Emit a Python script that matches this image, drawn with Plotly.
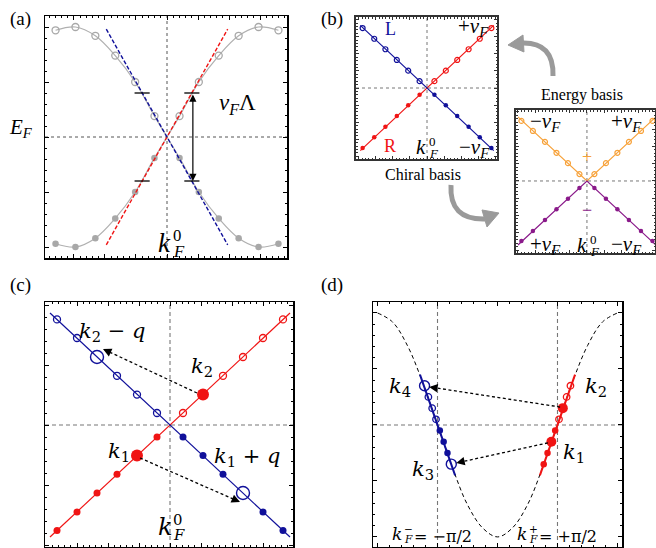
import plotly.graph_objects as go

W, H = 656, 548

# ===================== DATA =====================
# (a) lattice band near k_F^0 (k in lattice-point units, E in band units)
a_k = [-5.6, -4.6, -3.6, -2.6, -1.6, -0.63, 0.63, 1.6, 2.6, 3.6, 4.6, 5.6]
a_band1 = [0.97, 1.0, 0.92, 0.74, 0.5, 0.19, -0.19, -0.5, -0.74, -0.92, -1.0, -0.97]
a_band2 = [-0.97, -1.0, -0.92, -0.74, -0.5, -0.19, 0.19, 0.5, 0.74, 0.92, 1.0, 0.97]
a_lin_k = [-3.05, 3.05]
a_lin_R = [-0.98, 0.98]
a_lin_L = [0.98, -0.98]
a_cut_k = [-1.25, 1.25]
a_cut_E = [0.4, -0.4]
a_cut_half = 0.38
a_arrow_k = 1.3

# (b) chiral basis
b_k = [-5.65, -4.63, -3.65, -2.65, -1.65, -0.65, 0.65, 1.65, 2.65, 3.65, 4.63, 5.65]
b_R = [-5.26, -4.32, -3.4, -2.46, -1.52, -0.6, 0.6, 1.52, 2.46, 3.4, 4.32, 5.26]
b_L = [5.26, 4.32, 3.4, 2.46, 1.52, 0.6, -0.6, -1.52, -2.46, -3.4, -4.32, -5.26]
b_line_k = [-5.85, 5.85]
b_line_R = [-5.5, 5.5]
b_line_L = [5.5, -5.5]

# (b) energy basis
e_k = [-5.7, -4.7, -3.65, -2.65, -1.65, -0.65, 0.65, 1.65, 2.65, 3.65, 4.7, 5.7]
e_plus = [5.22, 4.35, 3.4, 2.45, 1.55, 0.6, 0.6, 1.55, 2.45, 3.4, 4.35, 5.22]
e_minus = [-5.22, -4.35, -3.4, -2.45, -1.55, -0.6, -0.6, -1.55, -2.45, -3.4, -4.35, -5.22]
e_line_k = [-6.0, 0.0, 6.0]
e_line_plus = [5.57, 0.0, 5.57]
e_line_minus = [-5.57, 0.0, -5.57]

# (c) linearised scattering
c_k = [-5.65, -4.65, -3.65, -2.65, -1.65, -0.65, 0.65, 1.65, 2.65, 3.65, 4.65, 5.65]
c_R = [-5.28, -4.35, -3.4, -2.46, -1.52, -0.6, 0.6, 1.52, 2.46, 3.4, 4.35, 5.28]
c_L = [5.28, 4.35, 3.4, 2.46, 1.52, 0.6, -0.6, -1.52, -2.46, -3.4, -4.35, -5.28]
c_line_k = [-6.0, 6.0]
c_line_R = [-5.6, 5.6]
c_line_L = [5.6, -5.6]
c_big_R = [4, 7]     # k1, k2 (red, filled, large)
c_big_L = [2, 9]     # k2-q, k1+q (blue, open, large)
c_arrow_from = [(1.35, 1.6), (-1.5, -1.65)]
c_arrow_to = [(-3.35, 3.8), (3.5, -3.85)]

# (d) cosine band with linearised patches
d_curve_k = [-3.14, -2.75, -2.36, -1.96, -1.57, -1.18, -0.79, -0.39, 0.0,
             0.39, 0.79, 1.18, 1.57, 1.96, 2.36, 2.75, 3.14]
d_curve_E = [1.0, 0.92, 0.71, 0.38, 0.0, -0.38, -0.71, -0.92, -1.0,
             -0.92, -0.71, -0.38, 0.0, 0.38, 0.71, 0.92, 1.0]
d_R_k = [1.21, 1.31, 1.41, 1.51, 1.61, 1.71, 1.81, 1.91]
d_R_E = [-0.35, -0.25, -0.15, -0.05, 0.05, 0.15, 0.25, 0.35]
d_L_k = [-1.91, -1.81, -1.71, -1.61, -1.51, -1.41, -1.31, -1.21]
d_L_E = [0.35, 0.25, 0.15, 0.05, -0.05, -0.15, -0.25, -0.35]
d_line_R_k = [1.11, 2.03]
d_line_R_E = [-0.45, 0.45]
d_line_L_k = [-2.03, -1.11]
d_line_L_E = [0.45, -0.45]
d_kF = [-1.5708, 1.5708]
d_big_R = [2, 5]     # k1, k2
d_big_L = [0, 7]     # k4, k3
d_arrow_from = [(1.64, 0.16), (1.32, -0.16)]
d_arrow_to = [(-1.79, 0.34), (-1.08, -0.34)]

# ===================== STYLE =====================
RED = "#f01414"
BLUE = "#10109a"
ORANGE = "#f7a23a"
PURPLE = "#8a1a8a"
GRAY = "#b0b0b0"
SER = "Liberation Serif"
M2 = "DejaVu Serif"

fig = go.Figure()
layout = {}
shapes = []
anns = []


def px2p(px, py):
    return px / W, 1 - py / H


def mk_axes(idx, xpx, ypx, xr, yr, xdt, xmin, ydt, ymin, lc="black", lw=1.5, tl=4):
    sx = "" if idx == 1 else str(idx)
    common = dict(showline=True, mirror="ticks", linecolor=lc, linewidth=lw,
                  ticks="inside", ticklen=tl, tickwidth=1, tickcolor=lc, tick0=0,
                  showticklabels=False, showgrid=False, zeroline=False, fixedrange=True)
    layout["xaxis" + sx] = dict(domain=[xpx[0] / W, xpx[1] / W], range=xr, anchor="y" + sx,
                                dtick=xdt,
                                minor=dict(ticks="inside", ticklen=tl * 0.5, dtick=xmin, tick0=0,
                                           tickcolor=lc, showgrid=False), **common)
    layout["yaxis" + sx] = dict(domain=[1 - ypx[1] / H, 1 - ypx[0] / H], range=yr, anchor="x" + sx,
                                dtick=ydt,
                                minor=dict(ticks="inside", ticklen=tl * 0.5, dtick=ymin, tick0=0,
                                           tickcolor=lc, showgrid=False), **common)


mk_axes(1, (45, 287), (16, 258), [-6.13, 6.03], [-1.1, 1.1], 1.56, 0.312, 0.5, 0.1)
mk_axes(2, (356, 497), (17, 159), [-6.23, 6.14], [-6.23, 6.23], 1.5, 0.3, 1.5, 0.3, lc="#333", lw=1.8, tl=3)
mk_axes(3, (516, 655), (110, 253), [-6.17, 5.92], [-6.26, 6.17], 1.5, 0.3, 1.5, 0.3, lc="#333", lw=1.8, tl=3)
mk_axes(4, (45, 293), (302, 547), [-6.25, 6.15], [-6.1, 6.15], 1.55, 0.31, 3.0, 0.6)
mk_axes(5, (373, 622), (302, 547), [-3.26, 3.26], [-1.09, 1.098], 1.5708, 0.31416, 0.5, 0.1)


def ax(i):
    s = "" if i == 1 else str(i)
    return "x" + s, "y" + s


def center_lines(i, xs, ys, color, dash, width=1):
    xa, ya = ax(i)
    for x in xs:
        shapes.append(dict(type="line", xref=xa, yref=ya + " domain", x0=x, x1=x, y0=0, y1=1,
                           line=dict(color=color, width=width, dash=dash), layer="below"))
    for y in ys:
        shapes.append(dict(type="line", xref=xa + " domain", yref=ya, x0=0, x1=1, y0=y, y1=y,
                           line=dict(color=color, width=width, dash=dash), layer="below"))


def add(i, **kw):
    xa, ya = ax(i)
    fig.add_trace(go.Scatter(xaxis=xa, yaxis=ya, showlegend=False, hoverinfo="skip", **kw))


def split(xs, ys, cond):
    return ([x for x, y in zip(xs, ys) if cond(y)], [y for y in ys if cond(y)])


# ---------------- (a) ----------------
center_lines(1, [0], [0], "#555", "3px,3px", 1)
for band in (a_band1, a_band2):
    add(1, x=a_k, y=band, mode="lines", line=dict(color=GRAY, width=1.2, shape="spline", smoothing=1.0))
    ox, oy = split(a_k, band, lambda v: v > 0)
    fx, fy = split(a_k, band, lambda v: v < 0)
    add(1, x=ox, y=oy, mode="markers", marker=dict(symbol="circle-open", size=7, color="#a8a8a8", line=dict(width=1.3)))
    add(1, x=fx, y=fy, mode="markers", marker=dict(symbol="circle", size=6.5, color="#a8a8a8"))
add(1, x=a_lin_k, y=a_lin_R, mode="lines", line=dict(color=RED, width=1.4, dash="4px,2px"))
add(1, x=a_lin_k, y=a_lin_L, mode="lines", line=dict(color=BLUE, width=1.4, dash="4px,2px"))
for kc in a_cut_k:
    for ec in a_cut_E:
        add(1, x=[kc - a_cut_half, kc + a_cut_half], y=[ec, ec], mode="lines", line=dict(color="black", width=1.3))
anns.append(dict(xref="x", yref="y", axref="x", ayref="y", x=a_arrow_k, y=a_cut_E[1], ax=a_arrow_k, ay=a_cut_E[0],
                 showarrow=True, arrowhead=2, arrowside="end+start", arrowsize=1.2, arrowwidth=1.2,
                 arrowcolor="black", text="", standoff=0, startstandoff=0))

# ---------------- (b) chiral ----------------
center_lines(2, [0], [0], "#777", "dot", 1)
add(2, x=b_line_k, y=b_line_R, mode="lines", line=dict(color=RED, width=1.2))
add(2, x=b_line_k, y=b_line_L, mode="lines", line=dict(color=BLUE, width=1.2))
for vals, col in ((b_R, RED), (b_L, BLUE)):
    ox, oy = split(b_k, vals, lambda v: v > 0)
    fx, fy = split(b_k, vals, lambda v: v < 0)
    add(2, x=ox, y=oy, mode="markers", marker=dict(symbol="circle-open", size=5, color=col, line=dict(width=1.2)))
    add(2, x=fx, y=fy, mode="markers", marker=dict(symbol="circle", size=4.5, color=col))

# ---------------- (b) energy ----------------
center_lines(3, [0], [0], "#777", "dot", 1)
add(3, x=e_line_k, y=e_line_plus, mode="lines", line=dict(color=ORANGE, width=1.2))
add(3, x=e_line_k, y=e_line_minus, mode="lines", line=dict(color=PURPLE, width=1.2))
add(3, x=e_k, y=e_plus, mode="markers", marker=dict(symbol="circle-open", size=5, color=ORANGE, line=dict(width=1.2)))
add(3, x=e_k, y=e_minus, mode="markers", marker=dict(symbol="circle", size=4.5, color=PURPLE))

# ---------------- (c) ----------------
center_lines(4, [0], [0], "#777", "4px,3px", 1.1)
add(4, x=c_line_k, y=c_line_R, mode="lines", line=dict(color=RED, width=1.2))
add(4, x=c_line_k, y=c_line_L, mode="lines", line=dict(color=BLUE, width=1.2))
for vals, col, big in ((c_R, RED, c_big_R), (c_L, BLUE, c_big_L)):
    idx = [i for i in range(len(c_k)) if i not in big]
    ox = [c_k[i] for i in idx if vals[i] > 0]
    oy = [vals[i] for i in idx if vals[i] > 0]
    fx = [c_k[i] for i in idx if vals[i] < 0]
    fy = [vals[i] for i in idx if vals[i] < 0]
    add(4, x=ox, y=oy, mode="markers", marker=dict(symbol="circle-open", size=7, color=col, line=dict(width=1.3)))
    add(4, x=fx, y=fy, mode="markers", marker=dict(symbol="circle", size=7, color=col))
add(4, x=[c_k[i] for i in c_big_R], y=[c_R[i] for i in c_big_R], mode="markers",
    marker=dict(symbol="circle", size=12, color=RED))
add(4, x=[c_k[i] for i in c_big_L], y=[c_L[i] for i in c_big_L], mode="markers",
    marker=dict(symbol="circle-open", size=13, color=BLUE, line=dict(width=1.4)))


def dashed_arrow(i, p0, p1, frac=0.04):
    xa, ya = ax(i)
    shapes.append(dict(type="line", xref=xa, yref=ya, x0=p0[0], y0=p0[1], x1=p1[0], y1=p1[1],
                       line=dict(color="black", width=1.3, dash="3px,2.5px")))
    anns.append(dict(xref=xa, yref=ya, axref=xa, ayref=ya, x=p1[0], y=p1[1],
                     ax=p1[0] - frac * (p1[0] - p0[0]), ay=p1[1] - frac * (p1[1] - p0[1]),
                     showarrow=True, arrowhead=2, arrowsize=1.3, arrowwidth=1.3, arrowcolor="black",
                     text="", standoff=0, startstandoff=0))


for p0, p1 in zip(c_arrow_from, c_arrow_to):
    dashed_arrow(4, p0, p1)

# ---------------- (d) ----------------
center_lines(5, d_kF, [0], "#777", "4px,3px", 1.1)
add(5, x=d_curve_k, y=d_curve_E, mode="lines", line=dict(color="black", width=1, dash="4px,3px", shape="spline", smoothing=1.0))
add(5, x=d_line_R_k, y=d_line_R_E, mode="lines", line=dict(color=RED, width=2))
add(5, x=d_line_L_k, y=d_line_L_E, mode="lines", line=dict(color=BLUE, width=2))
for ks, es, col, big in ((d_R_k, d_R_E, RED, d_big_R), (d_L_k, d_L_E, BLUE, d_big_L)):
    idx = [i for i in range(len(ks)) if i not in big]
    add(5, x=[ks[i] for i in idx if es[i] > 0], y=[es[i] for i in idx if es[i] > 0], mode="markers",
        marker=dict(symbol="circle-open", size=6.5, color=col, line=dict(width=1.3)))
    add(5, x=[ks[i] for i in idx if es[i] < 0], y=[es[i] for i in idx if es[i] < 0], mode="markers",
        marker=dict(symbol="circle", size=6.5, color=col))
add(5, x=[d_R_k[i] for i in d_big_R], y=[d_R_E[i] for i in d_big_R], mode="markers",
    marker=dict(symbol="circle", size=10, color=RED))
add(5, x=[d_L_k[i] for i in d_big_L], y=[d_L_E[i] for i in d_big_L], mode="markers",
    marker=dict(symbol="circle-open", size=10, color=BLUE, line=dict(width=1.4)))
for p0, p1 in zip(d_arrow_from, d_arrow_to):
    dashed_arrow(5, p0, p1)

# ---------------- gray curved arrows in (b) ----------------
def P(px, py):
    x, y = px2p(px, py)
    return f"{x:.5f},{y:.5f}"


shapes.append(dict(type="path", xref="paper", yref="paper",
                   path=f"M {P(553, 76)} Q {P(554, 42)} {P(522, 43)}",
                   line=dict(color="#9a9a9a", width=5)))
shapes.append(dict(type="path", xref="paper", yref="paper",
                   path=f"M {P(508, 45)} L {P(523, 35)} L {P(524, 52)} Z",
                   line=dict(color="#9a9a9a", width=1), fillcolor="#9a9a9a"))
shapes.append(dict(type="path", xref="paper", yref="paper",
                   path=f"M {P(451, 185)} Q {P(449, 220)} {P(485, 219)}",
                   line=dict(color="#9a9a9a", width=5)))
shapes.append(dict(type="path", xref="paper", yref="paper",
                   path=f"M {P(499, 213)} L {P(482, 210)} L {P(487, 227)} Z",
                   line=dict(color="#9a9a9a", width=1), fillcolor="#9a9a9a"))


# ---------------- text ----------------
def txt(px, py, text, size, fam=SER, color="black", xanchor="center"):
    x, y = px2p(px, py)
    anns.append(dict(x=x, y=y, xref="paper", yref="paper", text=text, showarrow=False,
                     font=dict(size=size, family=fam, color=color), xanchor=xanchor, yanchor="middle"))


def kstack(px, py, size, sup, sub="F", fam=SER, color="black"):
    txt(px, py, "<i>k</i>", size, fam, color)
    xs = px + 0.27 * size
    txt(xs, py - 0.28 * size, sup, size * 0.62, fam, color, xanchor="left")
    txt(xs, py + 0.32 * size, f"<i>{sub}</i>", size * 0.62, fam, color, xanchor="left")


VF = "<i>v</i><sub><i>F</i></sub>"

# panel labels
txt(20, 19, "(a)", 19)
txt(332, 19, "(b)", 19)
txt(20, 285, "(c)", 19)
txt(332, 285, "(d)", 19)

# (a)
txt(7, 128, "<i>E</i><sub><i>F</i></sub>", 21, xanchor="left")
txt(217, 104, VF + "Λ", 23, xanchor="left")
kstack(164, 243, 27, "0")

# (b) chiral
txt(390, 29, "L", 18, color=BLUE)
txt(473, 27, "+" + VF, 21)
txt(390, 146, "R", 18, color=RED)
kstack(421, 147, 21, "0")
txt(474, 148, "−" + VF, 21)
txt(423, 174, "Chiral basis", 16)
# (b) energy
txt(582, 95, "Energy basis", 16)
txt(545, 122, "−" + VF, 21)
txt(626, 122, "+" + VF, 21)
txt(587, 157, "+", 18, color=ORANGE)
txt(587, 210, "−", 18, color=PURPLE)
txt(545, 245, "+" + VF, 21)
kstack(582, 245, 21, "0")
txt(626, 245, "−" + VF, 21)

# (c)
txt(112, 332, "<i>k</i><sub>2</sub> − <i>q</i>", 21, M2)
txt(202, 367, "<i>k</i><sub>2</sub>", 21, M2)
txt(119, 452, "<i>k</i><sub>1</sub>", 21, M2)
txt(247, 457, "<i>k</i><sub>1</sub> + <i>q</i>", 21, M2)
kstack(165, 527, 24, "0", fam=M2)

# (d)
txt(400, 387, "<i>k</i><sub>4</sub>", 21, M2)
txt(596, 387, "<i>k</i><sub>2</sub>", 21, M2)
txt(574, 453, "<i>k</i><sub>1</sub>", 21, M2)
txt(423, 470, "<i>k</i><sub>3</sub>", 21, M2)
kstack(397, 534, 17, "−", fam=M2)
txt(412, 536, "= −π/2", 16, M2, xanchor="left")
kstack(522, 534, 17, "+", fam=M2)
txt(537, 536, "= +π/2", 16, M2, xanchor="left")

fig.update_layout(width=W, height=H, margin=dict(l=0, r=0, t=0, b=0),
                  paper_bgcolor="white", plot_bgcolor="white",
                  shapes=shapes, annotations=anns, **layout)
fig.write_html("out.html", config={"displayModeBar": False, "staticPlot": True},
               post_script="document.body.style.margin='0';document.body.style.padding='0';"
                           "document.documentElement.style.overflow='hidden';")
